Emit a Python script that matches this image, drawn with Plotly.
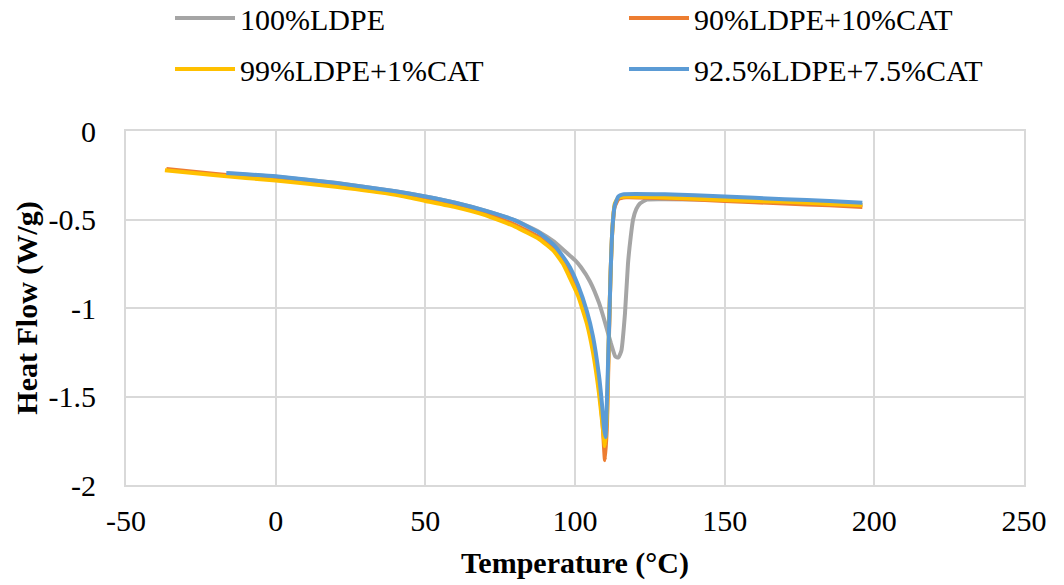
import plotly.graph_objects as go

# ---- data ----
names = ["100%LDPE", "90%LDPE+10%CAT", "99%LDPE+1%CAT", "92.5%LDPE+7.5%CAT"]
colors = ["#A5A5A5", "#ED7D31", "#FFC000", "#5B9BD5"]

t_ldpe = [-16, 0, 20, 40, 50, 60, 70, 80, 88, 93, 97, 100, 102, 105, 108, 110, 112, 113.5, 114.5,
          115.5, 116.7, 117.7, 118.6, 119.4, 120.5, 121.7, 124, 130, 150, 170, 185, 196]
hf_ldpe = [-0.24, -0.258, -0.293, -0.34, -0.37, -0.405, -0.45, -0.505, -0.57, -0.625, -0.685, -0.73,
           -0.77, -0.85, -0.97, -1.08, -1.2, -1.275, -1.28, -1.24, -1.03, -0.75, -0.6, -0.5, -0.44,
           -0.41, -0.387, -0.385, -0.39, -0.4, -0.41, -0.418]

t_cat10 = [-36.5, -20, 0, 20, 40, 50, 60, 70, 80, 88, 93, 96, 98, 101, 104, 106, 108, 109.2, 110,
           110.7, 111.3, 111.8, 112.4, 113.2, 114.5, 117, 130, 150, 170, 185, 196]
hf_cat10 = [-0.215, -0.243, -0.275, -0.31, -0.355, -0.385, -0.42, -0.465, -0.53, -0.6, -0.67, -0.74,
            -0.8, -0.91, -1.07, -1.22, -1.45, -1.65, -1.86, -1.65, -1.2, -0.85, -0.58, -0.43, -0.385,
            -0.375, -0.38, -0.395, -0.41, -0.42, -0.43]

t_cat1 = [-37, -20, 0, 20, 40, 50, 60, 70, 80, 88, 93, 96, 98, 101, 104, 106, 108, 109.3, 110,
          110.7, 111.3, 111.9, 112.5, 113.3, 114.5, 117, 130, 150, 170, 185, 196]
hf_cat1 = [-0.222, -0.25, -0.28, -0.315, -0.36, -0.395, -0.43, -0.475, -0.54, -0.61, -0.68, -0.75,
           -0.82, -0.93, -1.09, -1.25, -1.48, -1.68, -1.78, -1.6, -1.15, -0.8, -0.55, -0.41, -0.375,
           -0.37, -0.375, -0.39, -0.4, -0.412, -0.42]

t_cat75 = [-16.5, 0, 20, 40, 50, 60, 70, 80, 88, 93, 96, 98.3, 101, 104, 106, 108, 109, 109.7, 110.2,
           110.8, 111.4, 111.9, 112.5, 113.3, 114.5, 116, 130, 150, 170, 185, 196]
hf_cat75 = [-0.237, -0.256, -0.293, -0.34, -0.37, -0.405, -0.45, -0.505, -0.575, -0.645, -0.71, -0.77,
            -0.87, -1.02, -1.16, -1.38, -1.54, -1.68, -1.73, -1.45, -1.1, -0.8, -0.55, -0.42, -0.37,
            -0.358, -0.358, -0.37, -0.385, -0.395, -0.405]

series_t = [t_ldpe, t_cat10, t_cat1, t_cat75]
series_hf = [hf_ldpe, hf_cat10, hf_cat1, hf_cat75]
legend_ids = ["legend", "legend2", "legend3", "legend4"]

x_ticks = [-50, 0, 50, 100, 150, 200, 250]
y_ticks = [0, -0.5, -1, -1.5, -2]

FONT = "Liberation Serif"
GRID = "#D9D9D9"

fig = go.Figure()
for name, col, tx, hy, lg in zip(names, colors, series_t, series_hf, legend_ids):
    fig.add_trace(go.Scatter(
        x=tx, y=hy, mode="lines", name=name, legend=lg, showlegend=True,
        line=dict(color=col, width=4, shape="spline", smoothing=0.4),
    ))

legend_common = dict(
    orientation="h", xref="container", yref="container",
    xanchor="left", yanchor="middle", itemwidth=60,
    font=dict(family=FONT, size=30, color="#000000"),
    bgcolor="rgba(0,0,0,0)", borderwidth=0,
)
col_x = [170 / 1064, 624 / 1064]
row_y = [1 - 18 / 585, 1 - 69 / 585]

fig.update_layout(
    width=1064, height=585, showlegend=True,
    margin=dict(l=126, r=40, t=131, b=100, autoexpand=False),
    paper_bgcolor="white", plot_bgcolor="white",
    font=dict(family=FONT, size=30, color="#000000"),
    legend=dict(**legend_common, x=col_x[0], y=row_y[0]),
    legend2=dict(**legend_common, x=col_x[1], y=row_y[0]),
    legend3=dict(**legend_common, x=col_x[0], y=row_y[1]),
    legend4=dict(**legend_common, x=col_x[1], y=row_y[1]),
    xaxis=dict(
        range=[-50, 250], tickvals=x_ticks, ticktext=[str(v) for v in x_ticks],
        showgrid=True, gridcolor=GRID, gridwidth=2, zeroline=False,
        showline=True, linecolor=GRID, linewidth=2, mirror=True,
        ticks="", ticklabelstandoff=8, automargin=False,
        tickfont=dict(family=FONT, size=30, color="#000000"),
        title=dict(text="<b>Temperature (°C)</b>", standoff=16,
                   font=dict(family=FONT, size=30, color="#000000")),
    ),
    yaxis=dict(
        range=[-2, 0], tickvals=y_ticks, ticktext=[str(v) for v in y_ticks],
        showgrid=True, gridcolor=GRID, gridwidth=2, zeroline=False,
        showline=True, linecolor=GRID, linewidth=2, mirror=True,
        ticks="", ticklabelstandoff=22, automargin=False,
        tickfont=dict(family=FONT, size=30, color="#000000"),
        title=dict(text="<b>Heat Flow (W/g)</b>", standoff=2,
                   font=dict(family=FONT, size=30, color="#000000")),
    ),
)

fig.write_html("out.html", config={"displayModeBar": False},
               post_script="document.body.style.margin='0';")
